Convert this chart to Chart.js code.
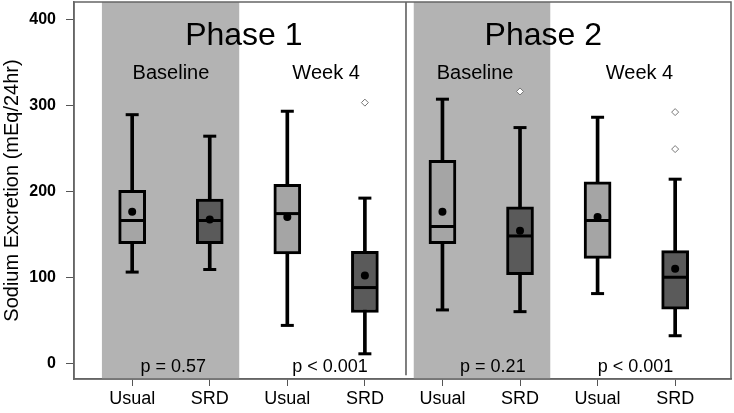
<!DOCTYPE html>
<html>
<head>
<meta charset="utf-8">
<script src="https://cdn.jsdelivr.net/npm/chart.js@4.4.0/dist/chart.umd.min.js"></script>
<style>
body { margin: 0; background: #fff; }
#wrap { width: 734px; height: 413px; }
</style>
</head>
<body>
<div id="wrap"><canvas id="graph" width="734" height="413"></canvas></div>
<script>
// values (mEq/24hr)
var categories = ["Usual", "SRD", "Usual", "SRD", "Usual", "SRD", "Usual", "SRD"];
var whiskerLow = [106, 109, 44, 11, 62, 60, 81, 32];
var q1 = [139, 139, 127, 59, 139, 103, 122, 63];
var median = [166, 166, 174, 88, 159, 148, 166, 100];
var q3 = [201, 191, 208, 130, 236, 182, 211, 131];
var whiskerHigh = [289, 264, 293, 192, 307, 274, 286, 214];
var means = [176, 167, 170, 102, 176, 154, 170, 110];
var outliers = [[], [], [], [303], [], [316], [], [292, 249]];
var yTicks = [0, 100, 200, 300, 400];

var phaseLabels = ["Phase 1", "Phase 2"];
var groupLabels = ["Baseline", "Week 4", "Baseline", "Week 4"];
var pLabels = ["p = 0.57", "p < 0.001", "p = 0.21", "p < 0.001"];

// placement of the decorations, in axis units
var layout = {
    bands: [[-0.39, 1.38], [3.63, 5.39]],
    separator: 3.53,
    phaseX: [1.44, 5.3], phaseY: 370,
    groupX: [0.5, 2.5, 4.42, 6.54], groupY: 331,
    pX: [0.53, 2.55, 4.65, 6.49], pY: -10
};

var FONT = "'Liberation Sans', Arial, sans-serif";
var fills = categories.map(function(c) { return c == "Usual" ? "#a5a5a5" : "#5a5a5a"; });

var caps = [];
var outlierPts = [];
categories.forEach(function(c, i) {
    caps.push({x: i, y: whiskerLow[i]});
    caps.push({x: i, y: whiskerHigh[i]});
    outliers[i].forEach(function(v) { outlierPts.push({x: i, y: v}); });
});

var decor = {
    id: "decor",
    beforeDatasetsDraw: function(chart) {
        var ctx = chart.ctx, a = chart.chartArea, x = chart.scales.x, y = chart.scales.y;
        ctx.save();
        ctx.fillStyle = "#b3b3b3";
        layout.bands.forEach(function(b) {
            var x0 = x.getPixelForValue(b[0]), x1 = x.getPixelForValue(b[1]);
            ctx.fillRect(x0, a.top, x1 - x0, a.bottom - a.top);
        });
        ctx.strokeStyle = "#555";
        ctx.lineWidth = 1.5;
        ctx.beginPath();
        ctx.moveTo(x.getPixelForValue(layout.separator), a.top);
        ctx.lineTo(x.getPixelForValue(layout.separator), y.getPixelForValue(-14));
        ctx.stroke();

        ctx.fillStyle = "#000";
        ctx.textAlign = "center";
        ctx.textBaseline = "alphabetic";
        ctx.font = "32px " + FONT;
        phaseLabels.forEach(function(t, i) {
            ctx.fillText(t, x.getPixelForValue(layout.phaseX[i]), y.getPixelForValue(layout.phaseY));
        });
        ctx.font = "20px " + FONT;
        groupLabels.forEach(function(t, i) {
            ctx.fillText(t, x.getPixelForValue(layout.groupX[i]), y.getPixelForValue(layout.groupY));
        });
        ctx.font = "18px " + FONT;
        pLabels.forEach(function(t, i) {
            ctx.fillText(t, x.getPixelForValue(layout.pX[i]), y.getPixelForValue(layout.pY));
        });
        ctx.restore();
    },
    afterDraw: function(chart) {
        var ctx = chart.ctx, a = chart.chartArea;
        ctx.save();
        ctx.strokeStyle = "#666";
        ctx.lineWidth = 1.5;
        ctx.strokeRect(a.left, a.top, a.right - a.left, a.bottom - a.top);
        ctx.restore();
    }
};

new Chart(document.getElementById("graph").getContext("2d"), {
    type: "bar",
    data: {
        datasets: [
            {
                type: "scatter",
                data: outlierPts,
                pointStyle: "rectRot",
                pointRadius: 3.5,
                pointBackgroundColor: "#fff",
                pointBorderColor: "#777",
                pointBorderWidth: 1,
                order: 0
            },
            {
                type: "scatter",
                data: means.map(function(v, i) { return {x: i, y: v}; }),
                pointStyle: "circle",
                pointRadius: 4,
                pointBackgroundColor: "#000",
                pointBorderColor: "#000",
                pointBorderWidth: 0,
                order: 1
            },
            {
                type: "scatter",
                data: median.map(function(v, i) { return {x: i, y: v}; }),
                pointStyle: "line",
                pointRadius: 12,
                pointBorderColor: "#000",
                pointBorderWidth: 3,
                order: 2
            },
            {
                type: "scatter",
                data: caps,
                pointStyle: "line",
                pointRadius: 6.5,
                pointBorderColor: "#000",
                pointBorderWidth: 3,
                order: 3
            },
            {
                type: "bar",
                data: categories.map(function(c, i) { return {x: i, y: [q1[i], q3[i]]}; }),
                backgroundColor: fills,
                borderColor: "#000",
                borderWidth: 3,
                borderSkipped: false,
                barThickness: 27,
                grouped: false,
                order: 4
            },
            {
                type: "bar",
                data: categories.map(function(c, i) { return {x: i, y: [whiskerLow[i], whiskerHigh[i]]}; }),
                backgroundColor: "#000",
                barThickness: 3,
                grouped: false,
                order: 5
            }
        ]
    },
    options: {
        responsive: false,
        animation: false,
        events: [],
        layout: { autoPadding: false, padding: { top: 2, right: 3, left: 0, bottom: 0 } },
        plugins: { legend: { display: false }, tooltip: { enabled: false } },
        scales: {
            x: {
                type: "linear",
                offset: false,
                min: -0.75,
                max: 7.72,
                afterBuildTicks: function(scale) {
                    scale.ticks = categories.map(function(c, i) { return {value: i}; });
                },
                afterFit: function(scale) {
                    scale.height = 34;
                    scale.paddingLeft = 0;
                    scale.paddingRight = 0;
                },
                ticks: {
                    autoSkip: false,
                    maxRotation: 0,
                    padding: 2,
                    color: "#000",
                    font: { family: FONT, size: 18 },
                    callback: function(v) { return categories[v]; }
                },
                grid: { offset: false, drawOnChartArea: false, drawTicks: true, tickLength: 7, color: "#555", lineWidth: 1 },
                border: { color: "#666", width: 1.5 }
            },
            y: {
                min: -18.3,
                max: 420,
                afterBuildTicks: function(scale) {
                    scale.ticks = yTicks.map(function(v) { return {value: v}; });
                },
                afterFit: function(scale) {
                    scale.width = 74;
                    scale.paddingTop = 0;
                    scale.paddingBottom = 0;
                },
                ticks: {
                    padding: 10,
                    color: "#000",
                    font: { family: FONT, size: 16, weight: "bold" }
                },
                grid: { drawOnChartArea: false, drawTicks: true, tickLength: 8, color: "#555", lineWidth: 1 },
                border: { color: "#666", width: 1.5 },
                title: {
                    display: true,
                    text: "Sodium Excretion (mEq/24hr)",
                    color: "#000",
                    padding: 0,
                    font: { family: FONT, size: 20 }
                }
            }
        }
    },
    plugins: [decor]
});
</script>
</body>
</html>
